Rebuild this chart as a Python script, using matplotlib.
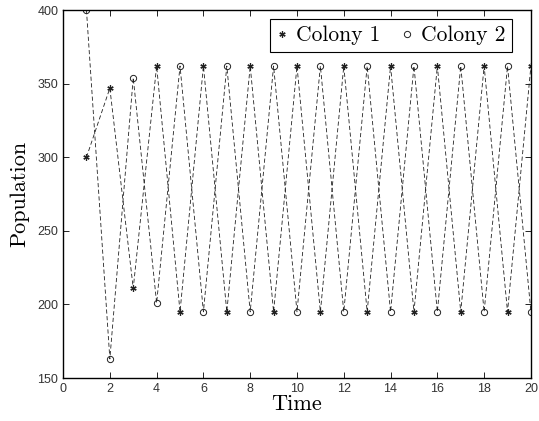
import numpy as np
import matplotlib.pyplot as plt

# data
time = list(range(1, 21))
colony1 = [300, 347, 211, 362, 195, 362, 195, 362, 195, 362,
           195, 362, 195, 362, 195, 362, 195, 362, 195, 362]
colony2 = [400, 163, 354, 201, 362, 195, 362, 195, 362, 195,
           362, 195, 362, 195, 362, 195, 362, 195, 362, 195]
xticks = list(range(0, 21, 2))
yticks = [150, 200, 250, 300, 350, 400]

fig = plt.figure(figsize=(5.39, 4.21), dpi=100)
ax = fig.add_axes([0.117, 0.102, 0.868, 0.874])

ax.plot(time, colony1, linestyle=(0, (5, 3)), color='#222222', linewidth=0.6,
        marker=(6, 2, 0), markersize=4.5, markeredgewidth=0.9, label='Colony 1')
ax.plot(time, colony2, linestyle=(0, (5, 3)), color='#222222', linewidth=0.6,
        marker='o', markersize=4.5, markerfacecolor='none', markeredgewidth=0.7,
        label='Colony 2')

ax.set_xlim(0, 20)
ax.set_ylim(150, 400)
ax.set_xticks(xticks)
ax.set_yticks(yticks)
ax.tick_params(direction='in', top=True, right=True, length=4, width=0.6,
               labelsize=9, labelcolor='#333333')
for lab in ax.get_xticklabels() + ax.get_yticklabels():
    lab.set_family('Liberation Sans')
for s in ax.spines.values():
    s.set_linewidth(1.0)

ax.set_xlabel('Time', family='cmr10', fontsize=16, labelpad=0)
ax.set_ylabel('Population', family='cmr10', fontsize=16, labelpad=6)

leg = ax.legend(loc='upper right', ncol=2, prop={'family': 'cmr10', 'size': 15.5},
                fancybox=False, edgecolor='black', framealpha=1,
                handlelength=0.5, handletextpad=0.4, columnspacing=1.0,
                borderpad=0.3, borderaxespad=0, bbox_to_anchor=(0.96, 0.975))
for h in leg.get_lines():
    h.set_linestyle('none')
leg.get_frame().set_linewidth(0.8)

fig.savefig('out.png', dpi=100)
